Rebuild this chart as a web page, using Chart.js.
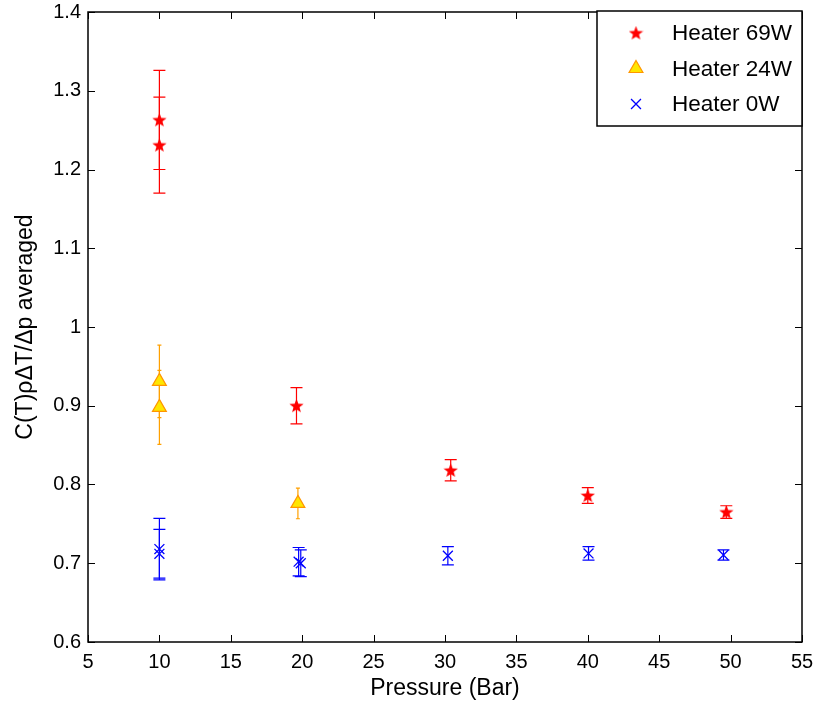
<!DOCTYPE html>
<html>
<head>
<meta charset="utf-8">
<script src="https://cdn.jsdelivr.net/npm/chart.js@4"></script>
<style>
  html, body { margin: 0; padding: 0; background: #fff; }
  canvas { display: block; }
</style>
</head>
<body>
<canvas id="chart" width="817" height="708"></canvas>
<script>
// Heater 69W
const pressure69 = [10, 10, 19.6, 30.4, 40, 49.7];
const value69 = [1.263, 1.231, 0.900, 0.818, 0.786, 0.765];
const error69 = [0.063, 0.061, 0.023, 0.0135, 0.010, 0.008];

// Heater 24W
const pressure24 = [10, 10, 19.7];
const value24 = [0.931, 0.898, 0.776];
const error24 = [0.046, 0.047, 0.0195];

// Heater 0W
const pressure0 = [10, 10, 19.75, 19.9, 30.2, 40.05, 49.5];
const value0 = [0.718, 0.712, 0.702, 0.700, 0.7095, 0.7125, 0.7105];
const error0 = [0.039, 0.031, 0.018, 0.017, 0.0115, 0.0085, 0.0065];

const seriesLabels = ['Heater 69W', 'Heater 24W', 'Heater 0W'];
const xTicks = [5, 10, 15, 20, 25, 30, 35, 40, 45, 50, 55];
const yTicks = [0.6, 0.7, 0.8, 0.9, 1, 1.1, 1.2, 1.3, 1.4];

const FONT = 'Liberation Sans, Arial, Helvetica, sans-serif';

function toPoints(xs, ys) {
    return xs.map((x, i) => ({ x: x, y: ys[i] }));
}

// filled five-point star used as the 69W marker
function makeStar(size, color) {
    const c = document.createElement('canvas');
    c.width = size; c.height = size;
    const g = c.getContext('2d');
    const cx = size / 2, cy = size / 2 + 0.5;
    const ro = size / 2, ri = ro * 0.42;
    g.beginPath();
    for (let i = 0; i < 10; i++) {
        const r = i % 2 === 0 ? ro : ri;
        const a = -Math.PI / 2 + i * Math.PI / 5;
        const px = cx + r * Math.cos(a), py = cy + r * Math.sin(a);
        if (i === 0) g.moveTo(px, py); else g.lineTo(px, py);
    }
    g.closePath();
    g.fillStyle = color;
    g.fill();
    return c;
}
const starImg = makeStar(15, 'red');

const errorBars = {
    id: 'errorBars',
    beforeDatasetsDraw(chart) {
        const ctx = chart.ctx;
        const yScale = chart.scales.y;
        chart.data.datasets.forEach((ds, i) => {
            const meta = chart.getDatasetMeta(i);
            ctx.save();
            ctx.strokeStyle = ds.errorColor;
            ctx.lineWidth = 1.2;
            meta.data.forEach((pt, j) => {
                const v = ds.data[j].y, e = ds.errors[j];
                const top = yScale.getPixelForValue(v + e);
                const bot = yScale.getPixelForValue(v - e);
                const w = ds.capWidth / 2;
                ctx.beginPath();
                ctx.moveTo(pt.x, top); ctx.lineTo(pt.x, bot);
                ctx.moveTo(pt.x - w, top); ctx.lineTo(pt.x + w, top);
                ctx.moveTo(pt.x - w, bot); ctx.lineTo(pt.x + w, bot);
                ctx.stroke();
            });
            ctx.restore();
        });
    }
};

// matlab style box with inward ticks on all four sides
const boxAxes = {
    id: 'boxAxes',
    afterDraw(chart) {
        const { ctx, chartArea: a, scales } = chart;
        ctx.save();
        ctx.strokeStyle = '#000';
        ctx.lineWidth = 1.5;
        ctx.strokeRect(a.left, a.top, a.right - a.left, a.bottom - a.top);
        ctx.lineWidth = 1;
        ctx.beginPath();
        xTicks.forEach(t => {
            const x = Math.round(scales.x.getPixelForValue(t)) + 0.5;
            ctx.moveTo(x, a.bottom); ctx.lineTo(x, a.bottom - 7);
            ctx.moveTo(x, a.top); ctx.lineTo(x, a.top + 7);
        });
        yTicks.forEach(t => {
            const y = Math.round(scales.y.getPixelForValue(t)) + 0.5;
            ctx.moveTo(a.left, y); ctx.lineTo(a.left + 7, y);
            ctx.moveTo(a.right, y); ctx.lineTo(a.right - 7, y);
        });
        ctx.stroke();
        ctx.restore();
    }
};

const boxLegend = {
    id: 'boxLegend',
    afterDraw(chart) {
        const { ctx, chartArea: a } = chart;
        const right = a.right, top = a.top - 1, w = 205, h = 115;
        const left = right - w;
        ctx.save();
        ctx.fillStyle = '#fff';
        ctx.fillRect(left, top, w, h);
        ctx.strokeStyle = '#000';
        ctx.lineWidth = 1.5;
        ctx.strokeRect(left, top, w, h);
        ctx.font = '22.5px ' + FONT;
        ctx.textBaseline = 'middle';
        ctx.textAlign = 'left';
        chart.data.datasets.forEach((ds, i) => {
            const y = top + 22 + i * 35.5;
            const mx = left + 39;
            ctx.fillStyle = ds.pointBackgroundColor;
            ctx.strokeStyle = ds.pointBorderColor;
            ctx.lineWidth = ds.pointBorderWidth;
            Chart.helpers.drawPoint(ctx, {
                pointStyle: ds.pointStyle,
                radius: ds.pointRadius,
                rotation: 0,
                borderWidth: ds.pointBorderWidth
            }, mx, y);
            ctx.fillStyle = '#000';
            ctx.fillText(ds.label, left + 75, y + 1);
        });
        ctx.restore();
    }
};

new Chart(document.getElementById('chart'), {
    type: 'scatter',
    data: {
        datasets: [
            {
                label: seriesLabels[0],
                data: toPoints(pressure69, value69),
                errors: error69,
                errorColor: 'rgb(255,0,0)',
                capWidth: 12,
                pointStyle: starImg,
                pointRadius: 7,
                pointBorderWidth: 0,
                pointBackgroundColor: 'red',
                pointBorderColor: 'red'
            },
            {
                label: seriesLabels[1],
                data: toPoints(pressure24, value24),
                errors: error24,
                errorColor: 'rgb(255,160,0)',
                capWidth: 4,
                pointStyle: 'triangle',
                pointRadius: 8,
                pointBorderWidth: 1.2,
                pointBackgroundColor: 'rgb(255,230,0)',
                pointBorderColor: 'rgb(255,150,0)'
            },
            {
                label: seriesLabels[2],
                data: toPoints(pressure0, value0),
                errors: error0,
                errorColor: 'rgb(0,0,255)',
                capWidth: 12,
                pointStyle: 'crossRot',
                pointRadius: 7,
                pointBorderWidth: 1.3,
                pointBackgroundColor: 'blue',
                pointBorderColor: 'blue'
            }
        ]
    },
    options: {
        responsive: false,
        animation: false,
        layout: { padding: { left: 0, right: 15, top: 12, bottom: 0 } },
        plugins: {
            legend: { display: false },
            tooltip: { enabled: false }
        },
        scales: {
            x: {
                type: 'linear',
                min: 5, max: 55,
                afterFit: s => { s.height = 66; s.paddingLeft = 0; s.paddingRight = 0; },
                afterBuildTicks: s => { s.ticks = xTicks.map(v => ({ value: v })); },
                grid: { display: false, drawTicks: false },
                border: { display: false },
                ticks: {
                    color: '#000',
                    padding: 8,
                    maxRotation: 0,
                    font: { family: FONT, size: 20 }
                },
                title: {
                    display: true,
                    text: 'Pressure (Bar)',
                    color: '#000',
                    padding: { top: 0, bottom: 6 },
                    font: { family: FONT, size: 23 }
                }
            },
            y: {
                type: 'linear',
                min: 0.6, max: 1.4,
                afterFit: s => { s.width = 88; s.paddingTop = 0; s.paddingBottom = 0; },
                afterBuildTicks: s => { s.ticks = yTicks.map(v => ({ value: v })); },
                grid: { display: false, drawTicks: false },
                border: { display: false },
                ticks: {
                    color: '#000',
                    padding: 7,
                    font: { family: FONT, size: 20 },
                    callback: v => String(Math.round(v * 10) / 10)
                },
                title: {
                    display: true,
                    text: 'C(T)ρΔT/Δp averaged',
                    color: '#000',
                    padding: { top: 12, bottom: 0 },
                    font: { family: FONT, size: 23 }
                }
            }
        }
    },
    plugins: [errorBars, boxAxes, boxLegend]
});
</script>
</body>
</html>
